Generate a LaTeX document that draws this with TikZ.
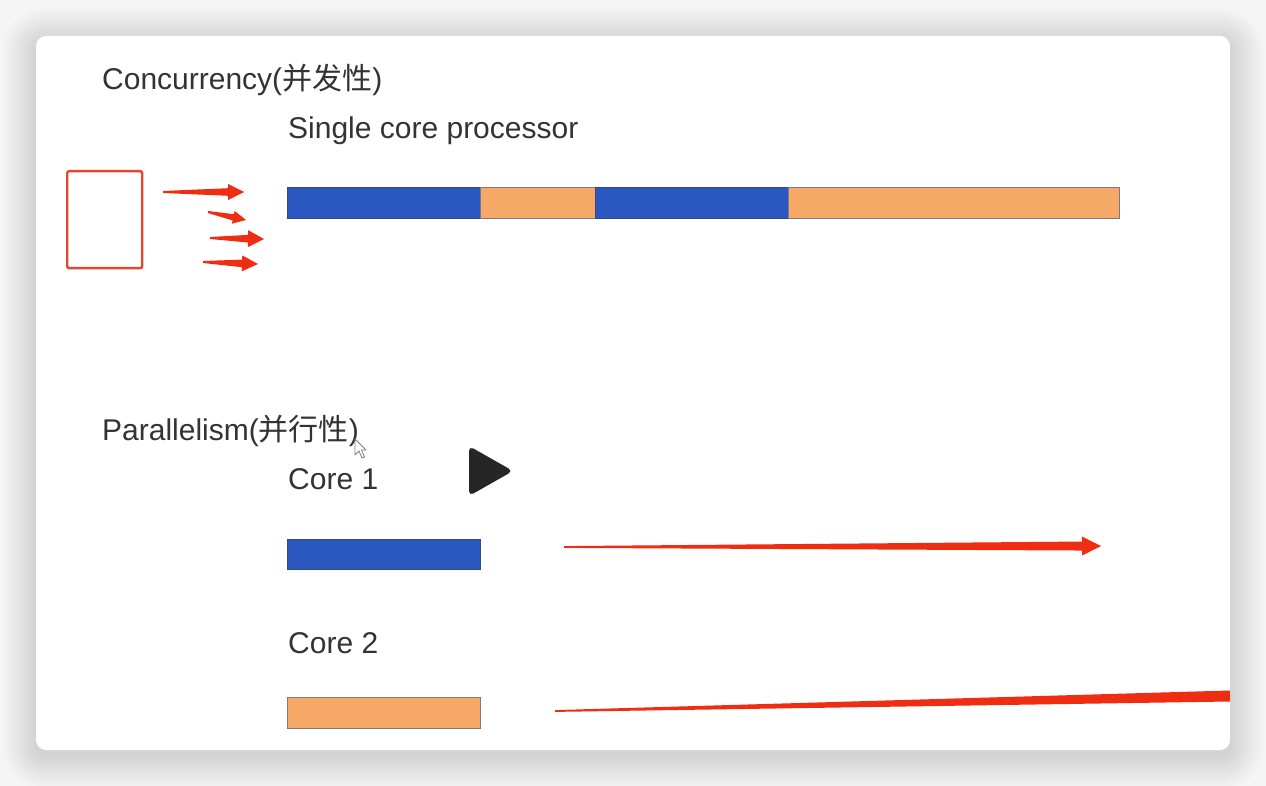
\documentclass[tikz,border=0pt]{standalone}
\usepackage{fontspec}
\setmainfont{Liberation Sans}
\newfontfamily\cjk{Noto Sans CJK SC}
\usetikzlibrary{calc}
\definecolor{bgc}{HTML}{F5F5F5}
\definecolor{txtc}{HTML}{333333}
\definecolor{barblue}{HTML}{2B57C1}
\definecolor{barblueb}{HTML}{34497E}
\definecolor{barorange}{HTML}{F6A866}
\definecolor{barorangeb}{HTML}{7C7A86}
\definecolor{arrred}{HTML}{EE2D12}
\definecolor{boxred}{HTML}{E5462E}
\definecolor{playc}{HTML}{262626}
\tikzset{
  lbl/.style={font=\fontsize{30}{35}\selectfont, text=txtc, inner sep=0pt, anchor=base west},
  seg/.style={rectangle, inner sep=0pt, anchor=north west, line width=1pt},
  blueseg/.style={seg, fill=barblue, draw=barblueb},
  orangeseg/.style={seg, fill=barorange, draw=barorangeb},
  taskbox/.style={rectangle, draw=boxred, line width=2.4pt, rounded corners=2pt, fill=white, inner sep=0pt, anchor=north west, minimum width=75pt, minimum height=97pt},
  redfill/.style={fill=arrred},
}
% tapered arrow: from, to, start half-width, neck half-width, head half-width, head length
\newcommand{\taperarrow}[6]{%
  \coordinate (tn) at ($(#2)!#6!(#1)$);
  \fill[redfill] ($(#1)!#3!90:(#2)$) -- ($(tn)!#4!-90:(#1)$) -- ($(tn)!#5!-90:(#1)$) -- (#2)
    -- ($(tn)!#5!90:(#1)$) -- ($(tn)!#4!90:(#1)$) -- ($(#1)!#3!-90:(#2)$) -- cycle;
}
\newcommand{\taperline}[4]{%
  \fill[redfill] ($(#1)!#3!90:(#2)$) -- ($(#2)!#4!-90:(#1)$) -- ($(#2)!#4!90:(#1)$) -- ($(#1)!#3!-90:(#2)$) -- cycle;
}
\begin{document}
\begin{tikzpicture}[x=1pt,y=-1pt]
\useasboundingbox (0,0) rectangle (1266,786);
\fill[bgc] (0,0) rectangle (1266,786);
% soft shadow of the card
\foreach \i in {1,...,34} {
  \fill[black, opacity=0.0055, rounded corners={10pt+\i pt}] (36-\i,36-\i+6) rectangle (1230+\i,750+\i+6);
}
% card
\fill[white, rounded corners=10pt] (36,36) rectangle (1230,750);

% titles
\node[lbl] (conc) at (102,90) {Concurrency({\cjk 并发性})};
\node[lbl] (single) at (288,139) {Single core processor};
\node[lbl] (para) at (102,440) {Parallelism({\cjk 并行性})};
\node[lbl] (core1) at (288,489) {Core 1};
\node[lbl] (core2) at (288,653) {Core 2};

% task box
\node[taskbox] (tasks) at (66,170) {};

% single core bar
\node[blueseg, minimum width=193pt, minimum height=31pt] (s1) at (287,187) {};
\node[orangeseg, minimum width=115pt, minimum height=31pt] (s2) at (480,187) {};
\node[blueseg, minimum width=193pt, minimum height=31pt] (s3) at (595,187) {};
\node[orangeseg, minimum width=331pt, minimum height=31pt] (s4) at (788,187) {};

% small arrows from task box
\coordinate (a1s) at (163,192); \coordinate (a1e) at (244,192);
\coordinate (a2s) at (208,212); \coordinate (a2e) at (246,220);
\coordinate (a3s) at (210,238); \coordinate (a3e) at (264,239);
\coordinate (a4s) at (203,262); \coordinate (a4e) at (258,264);
\taperarrow{a1s}{a1e}{1pt}{3.8pt}{8pt}{16pt}
\taperarrow{a2s}{a2e}{1pt}{3.2pt}{6.5pt}{13pt}
\taperarrow{a3s}{a3e}{1pt}{3.8pt}{8.5pt}{16pt}
\taperarrow{a4s}{a4e}{1pt}{3.8pt}{8pt}{16pt}

% parallel bars
\node[blueseg, minimum width=193pt, minimum height=30pt] (c1) at (287,539) {};
\node[orangeseg, minimum width=193pt, minimum height=31pt] (c2) at (287,697) {};

% long arrows
\coordinate (l1s) at (564,547); \coordinate (l1e) at (1101,546);
\taperarrow{l1s}{l1e}{0.9pt}{4.5pt}{9.5pt}{19pt}
\coordinate (l2s) at (555,711); \coordinate (l2e) at (1230,696);
\taperline{l2s}{l2e}{0.9pt}{5.5pt}

% video overlay: play triangle and cursor
\fill[playc, rounded corners=5pt] (469,446) -- (469,496) -- (513,471) -- cycle;
\filldraw[fill=white, draw=gray, line width=0.8pt, line join=round]
  (355,439) -- (355,455) -- (359,451) -- (362,458) -- (364.5,457) -- (361.5,450) -- (366,450) -- cycle;
\end{tikzpicture}
\end{document}
